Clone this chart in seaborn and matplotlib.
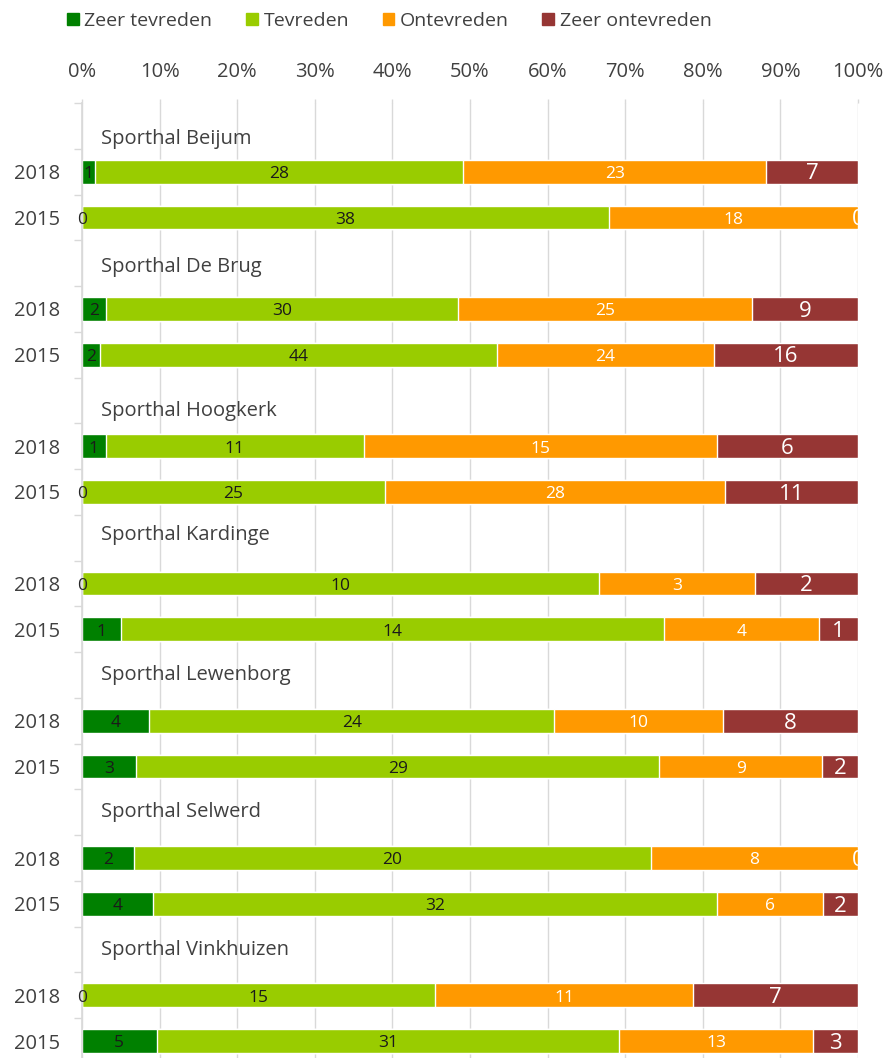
import numpy as np
import pandas as pd
import seaborn as sns
import matplotlib
matplotlib.use('Agg')
import matplotlib.pyplot as plt
from matplotlib.patches import Patch

# counts per hall, per year (2018, 2015)
halls = ['Sporthal Beijum', 'Sporthal De Brug', 'Sporthal Hoogkerk', 'Sporthal Kardinge',
         'Sporthal Lewenborg', 'Sporthal Selwerd', 'Sporthal Vinkhuizen']
years = ['2018', '2015']
categories = ['Zeer tevreden', 'Tevreden', 'Ontevreden', 'Zeer ontevreden']
zeer_tevreden = [1, 0, 2, 2, 1, 0, 0, 1, 4, 3, 2, 4, 0, 5]
tevreden = [28, 38, 30, 44, 11, 25, 10, 14, 24, 29, 20, 32, 15, 31]
ontevreden = [23, 18, 25, 24, 15, 28, 3, 4, 10, 9, 8, 6, 11, 13]
zeer_ontevreden = [7, 0, 9, 16, 6, 11, 2, 1, 8, 2, 0, 2, 7, 3]
colors = ['#008000', '#99CC00', '#FF9900', '#963634']
label_colors = ['#1a1a1a', '#1a1a1a', 'white', 'white']
label_sizes = [12.5, 12.5, 12.5, 16]
xticks = [0, 10, 20, 30, 40, 50, 60, 70, 80, 90, 100]
# heading text shift (in rows), the excel labels are not exactly centred
kop_offset = [0.28, 0.08, 0.22, -0.05, 0, 0, 0]

sns.set_theme(style='white')
plt.rcParams['font.family'] = ['Open Sans', 'DejaVu Sans']

# build table
rows = []
order = []
for h in halls:
    order.append(h + '|kop')
    for y in years:
        order.append(h + '|' + y)
        rows.append((h, y, h + '|' + y))
df = pd.DataFrame(rows, columns=['hal', 'jaar', 'rij'])
df['Zeer tevreden'] = zeer_tevreden
df['Tevreden'] = tevreden
df['Ontevreden'] = ontevreden
df['Zeer ontevreden'] = zeer_ontevreden
totaal = df[categories].sum(axis=1)
pct = df[categories].div(totaal, axis=0) * 100
cum = pct.cumsum(axis=1)
for c in categories:
    df['pct ' + c] = pct[c]
    df['cum ' + c] = cum[c]

fig = plt.figure(figsize=(8.9, 10.58), dpi=100)
ax = fig.add_axes([82/890, 1 - 1064/1058, 776/890, 961/1058])

# stacked bars: draw cumulative totals from the back to the front
for c, col in reversed(list(zip(categories, colors))):
    sns.barplot(data=df, x='cum ' + c, y='rij', order=order, orient='y',
                color=col, saturation=1, width=0.52, errorbar=None, ax=ax)

# value labels
for _, r in df.iterrows():
    yi = order.index(r['rij'])
    for k, c in enumerate(categories):
        start = r['cum ' + c] - r['pct ' + c]
        xm = start + r['pct ' + c] / 2
        kleur = label_colors[k]
        if r[c] == 0 and k == 0:
            kleur = '#262626'
        ax.text(xm, yi + 0.05, str(r[c]), ha='center', va='center',
                fontsize=label_sizes[k], color=kleur,
                clip_on=(k == len(categories) - 1))

# hall headings
for h, off in zip(halls, kop_offset):
    ax.text(2.4, order.index(h + '|kop') + off, h, ha='left', va='center',
            fontsize=14.5, color='#404040')

ax.set_xlim(0, 100)
ax.set_ylim(len(order) - 0.5, -0.5)
ax.set_xticks(xticks)
ax.set_xticklabels([f'{t}%' for t in xticks])
ax.xaxis.set_ticks_position('top')
ax.tick_params(axis='x', top=True, bottom=False, labeltop=True, labelbottom=False,
               length=3, width=1, color='#d9d9d9', pad=12, labelsize=14.5, labelcolor='#404040')
ax.set_yticks(range(len(order)))
ax.set_yticklabels(['' if o.endswith('kop') else o.split('|')[1] for o in order])
ax.set_yticks(np.arange(-0.5, len(order), 1), minor=True)
ax.tick_params(axis='y', which='major', length=0, pad=16, labelsize=14.5, labelcolor='#404040')
ax.tick_params(axis='y', which='minor', left=True, length=6, width=1, color='#d9d9d9')
ax.set_xlabel('')
ax.set_ylabel('')

ax.grid(axis='x', color='#d9d9d9', linewidth=1)
ax.set_axisbelow(True)
for s in ['top', 'right', 'bottom']:
    ax.spines[s].set_visible(False)
ax.spines['left'].set_color('#d9d9d9')

legend = [Patch(facecolor=col, edgecolor=col, label=c) for c, col in zip(categories, colors)]
fig.legend(handles=legend, loc='center left', bbox_to_anchor=(67/890, 1 - 21/1058),
           ncol=4, frameon=False, fontsize=14, handlelength=0.6, handleheight=0.6,
           handletextpad=0.3, columnspacing=1.72, borderpad=0, borderaxespad=0,
           labelcolor='#404040')

fig.savefig('out.png', dpi=100)
